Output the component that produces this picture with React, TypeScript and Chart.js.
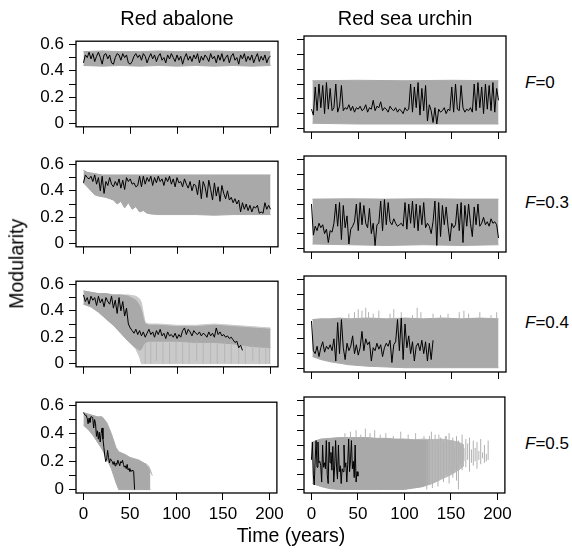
import React, { useEffect, useRef } from "react";
import { Chart, registerables } from "chart.js";
Chart.register(...registerables);

const FONT = "'Liberation Sans', Arial, Helvetica, sans-serif";
const DARK = "#a9a9a9";
const MID = "#b9b9b9";
const LIGHT = "#cacaca";

// axes
const xTickValues = [0, 50, 100, 150, 200];
const yTickValues = [0, 0.1, 0.2, 0.3, 0.4, 0.5, 0.6];
const yMajorValues = [0, 0.2, 0.4, 0.6];
const yMajorLabels = ["0", "0.2", "0.4", "0.6"];
const colTitles = ["Red abalone", "Red sea urchin"];
const rowF = ["0", "0.3", "0.4", "0.5"];

// ---------- Red abalone, F=0 ----------
const abF0Black = [
  0.46, 0.52, 0.5, 0.54, 0.49, 0.53, 0.47, 0.51, 0.54, 0.5,
  0.45, 0.52, 0.53, 0.49, 0.52, 0.46, 0.45, 0.5, 0.53, 0.52,
  0.48, 0.53, 0.5, 0.52, 0.46, 0.45, 0.47, 0.51, 0.53, 0.5,
  0.52, 0.48, 0.53, 0.51, 0.46, 0.5, 0.53, 0.49, 0.52, 0.47,
  0.51, 0.53, 0.48, 0.5, 0.46, 0.52, 0.49, 0.53, 0.5, 0.47,
  0.52, 0.48, 0.51, 0.45, 0.5, 0.53, 0.48, 0.51, 0.47, 0.52,
  0.49, 0.53, 0.46, 0.51, 0.48, 0.52, 0.5, 0.47, 0.53, 0.49,
  0.51, 0.46, 0.52, 0.48, 0.53, 0.47, 0.5, 0.52, 0.46, 0.51,
  0.53, 0.48, 0.5, 0.45, 0.52, 0.49, 0.53, 0.47, 0.51, 0.48,
  0.52, 0.46, 0.5, 0.53, 0.47, 0.51, 0.48, 0.52, 0.46, 0.5, 0.51,
];
const abF0BandYears = [0, 20, 40, 60, 80, 100, 120, 140, 160, 180, 200];
const abF0BandUpper = [0.545, 0.55, 0.545, 0.545, 0.55, 0.545, 0.545, 0.55, 0.545, 0.545, 0.545];
const abF0BandLower = [0.44, 0.435, 0.44, 0.435, 0.44, 0.435, 0.44, 0.435, 0.44, 0.435, 0.44];

// ---------- Red sea urchin, F=0 ----------
const urF0Black = [
  0.13, 0.09, 0.28, 0.12, 0.3, 0.14, 0.29, 0.1, 0.31, 0.13,
  0.27, 0.12, 0.14, 0.3, 0.11, 0.15, 0.29, 0.12, 0.14, 0.13,
  0.16, 0.12, 0.15, 0.11, 0.14, 0.13, 0.15, 0.12, 0.13, 0.16,
  0.11, 0.14, 0.13, 0.19, 0.12, 0.15, 0.14, 0.18, 0.12, 0.14,
  0.13, 0.11, 0.15, 0.13, 0.12, 0.14, 0.11, 0.13, 0.12, 0.1,
  0.14, 0.12, 0.13, 0.3, 0.11, 0.28, 0.14, 0.31, 0.09, 0.27,
  0.12, 0.29, 0.05, 0.16, 0.12, 0.04, 0.14, 0.03, 0.13, 0.11,
  0.12, 0.14, 0.1, 0.13, 0.12, 0.28, 0.11, 0.3, 0.13, 0.12,
  0.29, 0.14, 0.11, 0.13, 0.12, 0.14, 0.11, 0.3, 0.12, 0.31,
  0.14, 0.28, 0.1, 0.3, 0.13, 0.29, 0.12, 0.31, 0.11, 0.27, 0.19,
];
const urF0BandYears = [1, 50, 100, 150, 200];
const urF0BandUpper = [0.322, 0.325, 0.322, 0.325, 0.322];
const urF0BandLower = [0.035, 0.03, 0.03, 0.03, 0.03];

// ---------- Red abalone, F=0.3 ----------
const abF03Black = [
  0.46, 0.52, 0.5, 0.49, 0.51, 0.47, 0.52, 0.45, 0.5, 0.4,
  0.51, 0.38, 0.47, 0.44, 0.5, 0.45, 0.43, 0.47, 0.44, 0.49,
  0.42, 0.48, 0.41, 0.5, 0.47, 0.49, 0.45, 0.46, 0.43, 0.44,
  0.51, 0.43, 0.51, 0.45, 0.5, 0.47, 0.51, 0.44, 0.5, 0.46,
  0.51, 0.47, 0.49, 0.44, 0.5, 0.47, 0.51, 0.45, 0.49, 0.43,
  0.5, 0.46, 0.47, 0.43, 0.49, 0.45, 0.42, 0.47, 0.4, 0.45,
  0.44, 0.37, 0.48, 0.34, 0.47, 0.43, 0.35, 0.48, 0.41, 0.33,
  0.46, 0.36, 0.43, 0.32, 0.44, 0.38, 0.34, 0.4, 0.33, 0.35,
  0.31, 0.34, 0.3, 0.33, 0.24, 0.31, 0.26, 0.3, 0.25, 0.29,
  0.24, 0.28, 0.27, 0.29, 0.23, 0.24, 0.23, 0.31, 0.26, 0.29, 0.26,
];
const abF03BandYears = [0, 4, 8, 12, 16, 20, 24, 28, 32, 36, 40, 44, 48, 52, 56, 60, 64, 68, 72, 80, 100, 120, 140, 160, 180, 200];
const abF03BandUpper = [0.555, 0.54, 0.535, 0.53, 0.525, 0.52, 0.52, 0.52, 0.52, 0.52, 0.52, 0.52, 0.52, 0.52, 0.52, 0.52, 0.52, 0.52, 0.52, 0.52, 0.52, 0.52, 0.52, 0.52, 0.52, 0.52];
const abF03BandLower = [0.46, 0.43, 0.4, 0.37, 0.36, 0.355, 0.35, 0.34, 0.33, 0.3, 0.32, 0.27, 0.31, 0.26, 0.28, 0.24, 0.25, 0.23, 0.225, 0.22, 0.22, 0.22, 0.215, 0.22, 0.22, 0.22];

// ---------- Red sea urchin, F=0.3 ----------
const urF03Black = [
  0.3, 0.09, 0.15, 0.12, 0.17, 0.14, 0.16, 0.1, 0.13, 0.04,
  0.12, 0.11, 0.17, 0.3, 0.15, 0.31, 0.06, 0.29, 0.14, 0.22,
  0.03, 0.13, 0.15, 0.18, 0.3, 0.12, 0.31, 0.16, 0.29, 0.17,
  0.14, 0.27, 0.1, 0.17, 0.02, 0.16, 0.17, 0.32, 0.12, 0.33,
  0.16, 0.31, 0.18, 0.16, 0.2, 0.17, 0.15, 0.16, 0.17, 0.15,
  0.31, 0.13, 0.3, 0.17, 0.32, 0.14, 0.3, 0.12, 0.29, 0.16,
  0.31, 0.14, 0.17, 0.15, 0.1, 0.18, 0.32, 0.02, 0.31, 0.08,
  0.29, 0.16, 0.28, 0.15, 0.05, 0.17, 0.14, 0.16, 0.3, 0.12,
  0.31, 0.04, 0.29, 0.15, 0.3, 0.17, 0.08, 0.28, 0.16, 0.3,
  0.15, 0.17, 0.21, 0.16, 0.18, 0.15, 0.2, 0.17, 0.18, 0.16, 0.07,
];
const urF03BandYears = [1, 40, 80, 120, 160, 200];
const urF03BandUpper = [0.333, 0.335, 0.333, 0.335, 0.333, 0.333];
const urF03BandLower = [0.03, 0.025, 0.02, 0.025, 0.02, 0.025];

// ---------- Red abalone, F=0.4 ----------
const abF04Black = [
  0.52, 0.47, 0.5, 0.45, 0.51, 0.48, 0.5, 0.44, 0.51, 0.46,
  0.49, 0.43, 0.5, 0.47, 0.45, 0.51, 0.42, 0.48, 0.38, 0.5,
  0.4, 0.47, 0.36, 0.42, 0.3, 0.27, 0.25, 0.23, 0.26, 0.22,
  0.25, 0.21, 0.24, 0.2, 0.23, 0.26, 0.22, 0.24, 0.2, 0.25,
  0.22, 0.26, 0.21, 0.23, 0.19, 0.24, 0.21, 0.22, 0.2, 0.23,
  0.19, 0.22, 0.2, 0.25, 0.27, 0.22, 0.26, 0.24, 0.21, 0.25,
  0.23, 0.22, 0.24, 0.21, 0.23, 0.22, 0.2, 0.24, 0.21, 0.23,
  0.2, 0.27, 0.22, 0.24, 0.21, 0.22, 0.2, 0.21, 0.19, 0.2,
  0.18, 0.16, 0.17, 0.12, 0.14, 0.1,
];
const abF04BandYears = [0, 8, 16, 24, 32, 40, 48, 56, 60, 62, 64, 66, 70, 80, 100, 120, 140, 160, 180, 200];
const abF04EnvUpper = [0.55, 0.54, 0.53, 0.53, 0.52, 0.52, 0.52, 0.51, 0.49, 0.46, 0.38, 0.31, 0.3, 0.3, 0.29, 0.29, 0.3, 0.29, 0.28, 0.27];
const abF04EnvLower = [0.45, 0.43, 0.39, 0.34, 0.29, 0.23, 0.17, 0.11, 0.05, 0, 0, 0, 0, 0, 0, 0, 0, 0, 0, 0];
const abF04CoreUpper = [0.55, 0.54, 0.53, 0.53, 0.52, 0.52, 0.51, 0.48, 0.44, 0.4, 0.34, 0.3, 0.29, 0.29, 0.28, 0.28, 0.29, 0.28, 0.27, 0.26];
const abF04CoreLower = [0.45, 0.43, 0.39, 0.34, 0.29, 0.23, 0.17, 0.12, 0.1, 0.11, 0.14, 0.16, 0.17, 0.17, 0.17, 0.16, 0.16, 0.15, 0.13, 0.12];
const abF04StreakYears = [66, 72, 78, 85, 92, 99, 106, 113, 121, 128, 136, 143, 151, 158, 166, 173, 181, 188, 195, 199];
const abF04StreakLow = [0, 0, 0.02, 0, 0, 0.01, 0, 0, 0.02, 0, 0, 0, 0.01, 0, 0, 0, 0.02, 0, 0, 0];
const abF04StreakHigh = [0.16, 0.17, 0.16, 0.17, 0.16, 0.17, 0.16, 0.16, 0.17, 0.16, 0.16, 0.15, 0.16, 0.15, 0.15, 0.14, 0.14, 0.13, 0.13, 0.12];

// ---------- Red sea urchin, F=0.4 ----------
const urF04Black = [
  0.32, 0.12, 0.1, 0.15, 0.08, 0.14, 0.18, 0.11, 0.15, 0.13,
  0.16, 0.12, 0.2, 0.05, 0.31, 0.1, 0.33, 0.14, 0.06, 0.17,
  0.12, 0.15, 0.22, 0.1, 0.16, 0.09, 0.14, 0.25, 0.12, 0.2,
  0.16, 0.18, 0.05, 0.14, 0.12, 0.17, 0.13, 0.16, 0.08, 0.14,
  0.17, 0.15, 0.19, 0.04, 0.16, 0.18, 0.33, 0.12, 0.34, 0.06,
  0.3, 0.14, 0.22, 0.1, 0.18, 0.05, 0.15, 0.17, 0.12, 0.19,
  0.1, 0.18, 0.05, 0.17, 0.06, 0.19,
];
const urF04BandYears = [1, 10, 20, 30, 40, 60, 80, 100, 120, 140, 160, 180, 200];
const urF04BandUpper = [0.33, 0.335, 0.335, 0.34, 0.335, 0.34, 0.335, 0.34, 0.335, 0.34, 0.335, 0.34, 0.335];
const urF04BandLower = [0.08, 0.06, 0.045, 0.035, 0.025, 0.015, 0.01, 0.005, 0.005, 0.005, 0.005, 0.005, 0.005];
const urF04SpikeYears = [40, 46, 50, 54, 58, 61, 66, 72, 84, 88, 96, 108, 113, 117, 130, 138, 146, 158, 163, 168, 180, 192, 198];
const urF04SpikeBase = [0.33, 0.33, 0.33, 0.33, 0.33, 0.33, 0.33, 0.33, 0.33, 0.33, 0.33, 0.33, 0.33, 0.33, 0.33, 0.33, 0.33, 0.33, 0.33, 0.33, 0.33, 0.33, 0.33];
const urF04SpikeTop = [0.37, 0.38, 0.4, 0.39, 0.41, 0.38, 0.37, 0.39, 0.37, 0.4, 0.38, 0.36, 0.41, 0.38, 0.37, 0.36, 0.37, 0.38, 0.39, 0.37, 0.38, 0.36, 0.38];

// ---------- Red abalone, F=0.5 ----------
const abF05Black = [
  0.55, 0.54, 0.53, 0.53, 0.51, 0.47, 0.51, 0.48, 0.52, 0.52,
  0.51, 0.44, 0.5, 0.47, 0.38, 0.42, 0.36, 0.41, 0.34, 0.4,
  0.44, 0.36, 0.3, 0.24, 0.2, 0.22, 0.28, 0.23, 0.19, 0.22,
  0.21, 0.2, 0.18, 0.2, 0.17, 0.19, 0.18, 0.21, 0.19, 0.17,
  0.2, 0.19, 0.21, 0.18, 0.16, 0.17, 0.15, 0.18, 0.14, 0.15,
  0.13, 0.14, 0.13, 0.14, 0.13, 0,
];
const abF05BandYears = [0, 5, 10, 15, 20, 25, 30, 35, 38, 45, 50, 55, 60, 65, 70, 72];
const abF05BandUpper = [0.55, 0.54, 0.53, 0.52, 0.52, 0.48, 0.4, 0.3, 0.27, 0.25, 0.23, 0.22, 0.21, 0.19, 0.16, 0.12];
const abF05BandLower = [0.46, 0.43, 0.39, 0.34, 0.29, 0.22, 0.15, 0.05, 0, 0, 0, 0, 0, 0, 0, 0];
const abF05TailYears = [66, 70, 72, 74];
const abF05TailValues = [0.19, 0.17, 0.14, 0.1];

// ---------- Red sea urchin, F=0.5 ----------
const urF05Black = [
  0.2, 0.32, 0.1, 0.03, 0.2, 0.33, 0.15, 0.32, 0.18, 0.19,
  0.16, 0.05, 0.3, 0.15, 0.18, 0.14, 0.33, 0.1, 0.04, 0.32,
  0.18, 0.25, 0.13, 0.29, 0.05, 0.16, 0.33, 0.15, 0.07, 0.3,
  0.12, 0.16, 0.04, 0.14, 0.12, 0.3, 0.15, 0.18, 0.05, 0.17,
  0.34, 0.12, 0.2, 0.33, 0.14, 0.19, 0.08, 0.3, 0.05, 0.12, 0.09,
];
const urF05BandYears = [1, 10, 20, 30, 40, 50, 60, 70, 80, 90, 100, 110, 120, 126];
const urF05BandUpper = [0.32, 0.34, 0.345, 0.35, 0.35, 0.35, 0.35, 0.345, 0.345, 0.34, 0.34, 0.335, 0.33, 0.33];
const urF05BandLower = [0.04, 0.02, 0.005, 0, 0, 0, 0, 0, 0, 0, 0, 0.01, 0.02, 0.04];
const urF05MidYears = [110, 120, 130, 140, 150, 158, 164];
const urF05MidUpper = [0.335, 0.34, 0.335, 0.34, 0.33, 0.32, 0.3];
const urF05MidLower = [0.01, 0.02, 0.04, 0.07, 0.1, 0.13, 0.16];
const urF05SpikeYears = [36, 42, 48, 53, 58, 63, 68, 74, 80, 88, 96, 104, 112, 121, 129, 137, 144];
const urF05SpikeBase = [0.34, 0.34, 0.34, 0.34, 0.34, 0.34, 0.34, 0.34, 0.34, 0.34, 0.34, 0.34, 0.33, 0.33, 0.33, 0.33, 0.33];
const urF05SpikeTop = [0.38, 0.39, 0.4, 0.37, 0.41, 0.38, 0.4, 0.37, 0.38, 0.36, 0.39, 0.37, 0.38, 0.36, 0.39, 0.37, 0.36];
const urF05SparseYears = [
  124, 127, 130, 133, 136, 139, 142, 145, 148, 150, 152, 154, 156, 158, 160, 162, 164, 166, 168, 170,
  172, 174, 176, 178, 180, 182, 184, 186, 188, 190,
];
const urF05SparseLow = [
  0.0, 0.03, 0.01, 0.05, 0.02, 0.08, 0.05, 0.1, 0.04, 0.12, 0.08, 0.14, 0.06, 0.0, 0.17, 0.13, 0.19, 0.15, 0.2, 0.12,
  0.18, 0.16, 0.19, 0.14, 0.2, 0.17, 0.21, 0.18, 0.19, 0.2,
];
const urF05SparseHigh = [
  0.33, 0.36, 0.34, 0.37, 0.33, 0.35, 0.32, 0.36, 0.38, 0.33, 0.35, 0.29, 0.36, 0.33, 0.3, 0.37, 0.28, 0.34, 0.31, 0.35,
  0.27, 0.33, 0.28, 0.32, 0.26, 0.34, 0.25, 0.3, 0.24, 0.33,
];

// ---------- helpers ----------
type Pt = { x: number; y: number | null };
const pts = (xs: number[], ys: number[]): Pt[] => xs.map((x, i) => ({ x, y: ys[i] }));
const stepPts = (ys: number[], step: number): Pt[] => ys.map((y, i) => ({ x: i * step, y }));
const spikePts = (xs: number[], lo: number[], hi: number[]): Pt[] => {
  const out: Pt[] = [];
  xs.forEach((x, i) => {
    out.push({ x, y: lo[i] }, { x, y: hi[i] }, { x, y: null });
  });
  return out;
};

interface Band { years: number[]; upper: number[]; lower: number[]; color: string }
interface Spikes { years: number[]; lo: number[]; hi: number[]; color: string }
interface Trace { years: number[]; values: number[]; color: string }
interface Panel {
  col: number;
  row: number;
  black: number[];
  step: number;
  bands: Band[];
  spikes?: Spikes[];
  traces?: Trace[];
}

const panels: Panel[] = [
  { col: 0, row: 0, black: abF0Black, step: 2, bands: [{ years: abF0BandYears, upper: abF0BandUpper, lower: abF0BandLower, color: DARK }] },
  { col: 1, row: 0, black: urF0Black, step: 2, bands: [{ years: urF0BandYears, upper: urF0BandUpper, lower: urF0BandLower, color: DARK }] },
  { col: 0, row: 1, black: abF03Black, step: 2, bands: [{ years: abF03BandYears, upper: abF03BandUpper, lower: abF03BandLower, color: DARK }] },
  { col: 1, row: 1, black: urF03Black, step: 2, bands: [{ years: urF03BandYears, upper: urF03BandUpper, lower: urF03BandLower, color: DARK }] },
  {
    col: 0, row: 2, black: abF04Black, step: 2,
    bands: [
      { years: abF04BandYears, upper: abF04EnvUpper, lower: abF04EnvLower, color: LIGHT },
      { years: abF04BandYears, upper: abF04CoreUpper, lower: abF04CoreLower, color: DARK },
    ],
    spikes: [{ years: abF04StreakYears, lo: abF04StreakLow, hi: abF04StreakHigh, color: "#b6b6b6" }],
  },
  {
    col: 1, row: 2, black: urF04Black, step: 2,
    bands: [{ years: urF04BandYears, upper: urF04BandUpper, lower: urF04BandLower, color: DARK }],
    spikes: [{ years: urF04SpikeYears, lo: urF04SpikeBase, hi: urF04SpikeTop, color: "#b4b4b4" }],
  },
  {
    col: 0, row: 3, black: abF05Black, step: 1,
    bands: [{ years: abF05BandYears, upper: abF05BandUpper, lower: abF05BandLower, color: DARK }],
    traces: [{ years: abF05TailYears, values: abF05TailValues, color: "#b4b4b4" }],
  },
  {
    col: 1, row: 3, black: urF05Black, step: 1,
    bands: [
      { years: urF05MidYears, upper: urF05MidUpper, lower: urF05MidLower, color: MID },
      { years: urF05BandYears, upper: urF05BandUpper, lower: urF05BandLower, color: DARK },
    ],
    spikes: [
      { years: urF05SpikeYears, lo: urF05SpikeBase, hi: urF05SpikeTop, color: "#b4b4b4" },
      { years: urF05SparseYears, lo: urF05SparseLow, hi: urF05SparseHigh, color: "#b0b0b0" },
    ],
  },
];

// ---------- layout ----------
const BOX_TOPS = [36, 156, 276, 397];
const BOX_H = 96;
const PAD = 10;
const COLS = [
  { canvasLeft: 20, width: 268, yAxisW: 56 },
  { canvasLeft: 294, width: 222, yAxisW: 10 },
];

const boxPlugin = {
  id: "boxFrame",
  afterDraw(chart: any) {
    const { ctx, chartArea: a } = chart;
    ctx.save();
    ctx.strokeStyle = "#000";
    ctx.lineWidth = 1.3;
    ctx.strokeRect(a.left, a.top, a.right - a.left, a.bottom - a.top);
    ctx.restore();
  },
};

function buildConfig(p: Panel): any {
  const datasets: any[] = [];
  datasets.push({
    data: stepPts(p.black, p.step),
    borderColor: "#000",
    borderWidth: 1,
    fill: false,
    order: 0,
  });
  (p.spikes || []).forEach((s) =>
    datasets.push({
      data: spikePts(s.years, s.lo, s.hi),
      borderColor: s.color,
      borderWidth: 1,
      fill: false,
      spanGaps: false,
      order: 1,
    })
  );
  (p.traces || []).forEach((t) =>
    datasets.push({ data: pts(t.years, t.values), borderColor: t.color, borderWidth: 1, fill: false, order: 1 })
  );
  p.bands.forEach((b, k) => {
    const idx = datasets.length;
    datasets.push({
      data: pts(b.years, b.upper),
      borderColor: b.color,
      backgroundColor: b.color,
      borderWidth: 1,
      fill: idx + 1,
      order: 10 - 2 * k,
    });
    datasets.push({
      data: pts(b.years, b.lower),
      borderColor: b.color,
      borderWidth: 1,
      fill: false,
      order: 10 - 2 * k,
    });
  });

  const showX = p.row === 3;
  const showY = p.col === 0;
  const font = { family: FONT, size: 17 };
  return {
    type: "line",
    data: { datasets },
    options: {
      animation: false,
      responsive: false,
      maintainAspectRatio: false,
      events: [],
      layout: { padding: { top: PAD, right: PAD, left: 0, bottom: 0 } },
      plugins: { legend: { display: false }, tooltip: { enabled: false }, title: { display: false } },
      elements: { point: { radius: 0 }, line: { tension: 0 } },
      scales: {
        x: {
          type: "linear",
          min: -8,
          max: 208,
          offset: false,
          afterBuildTicks: (s: any) => {
            s.ticks = xTickValues.map((v) => ({ value: v }));
          },
          afterFit: (s: any) => {
            s.height = showX ? 34 : 10;
          },
          grid: { display: true, drawOnChartArea: false, drawTicks: true, tickLength: 7, color: "#000", lineWidth: 1, offset: false },
          border: { display: false },
          ticks: {
            display: showX,
            autoSkip: false,
            maxRotation: 0,
            padding: 4,
            color: "#000",
            font,
            callback: (v: any) => String(v),
          },
        },
        y: {
          type: "linear",
          min: -0.024,
          max: 0.624,
          afterBuildTicks: (s: any) => {
            s.ticks = yTickValues.map((v) => ({ value: v }));
          },
          afterFit: (s: any) => {
            s.width = COLS[p.col].yAxisW;
          },
          grid: { display: true, drawOnChartArea: false, drawTicks: true, tickLength: 7, color: "#000", lineWidth: 1 },
          border: { display: false },
          ticks: {
            display: showY,
            autoSkip: false,
            padding: 5,
            color: "#000",
            font,
            callback: (v: any) => {
              const i = yMajorValues.findIndex((m) => Math.abs(m - v) < 1e-9);
              return i >= 0 ? yMajorLabels[i] : "";
            },
          },
        },
      },
    },
    plugins: [boxPlugin],
  };
}

function PanelChart({ p }: { p: Panel }) {
  const ref = useRef<HTMLCanvasElement | null>(null);
  const col = COLS[p.col];
  const h = PAD + BOX_H + (p.row === 3 ? 34 : 10);
  const top = BOX_TOPS[p.row] - PAD;
  useEffect(() => {
    if (!ref.current) return;
    const chart = new Chart(ref.current, buildConfig(p));
    return () => chart.destroy();
  }, []);
  return (
    <canvas
      ref={ref}
      width={col.width}
      height={h}
      style={{ position: "absolute", left: col.canvasLeft, top, width: col.width, height: h }}
    />
  );
}

export default function App() {
  const textBase: React.CSSProperties = { position: "absolute", fontFamily: FONT, color: "#000", whiteSpace: "nowrap" };
  return (
    <div style={{ position: "absolute", left: 0, top: 0, width: 572, height: 552, background: "#fff", overflow: "hidden" }}>
      {panels.map((p, i) => (
        <PanelChart key={i} p={p} />
      ))}
      {colTitles.map((t, i) => (
        <div
          key={t}
          style={{ ...textBase, left: (i === 0 ? 177 : 405) - 100, width: 200, textAlign: "center", top: 8, fontSize: 20, lineHeight: "20px" }}
        >
          {t}
        </div>
      ))}
      {rowF.map((f, i) => (
        <div key={f} style={{ ...textBase, left: 525, top: BOX_TOPS[i] + 37.6, fontSize: 17, lineHeight: "17px" }}>
          <span style={{ fontStyle: "italic" }}>F</span>={f}
        </div>
      ))}
      <div
        style={{
          ...textBase,
          left: 17 - 100,
          top: 264 - 9.75,
          width: 200,
          textAlign: "center",
          fontSize: 19.5,
          lineHeight: "19.5px",
          transform: "rotate(-90deg)",
        }}
      >
        Modularity
      </div>
      <div style={{ ...textBase, left: 291 - 100, width: 200, textAlign: "center", top: 525.5, fontSize: 19.5, lineHeight: "19.5px" }}>
        Time (years)
      </div>
    </div>
  );
}
